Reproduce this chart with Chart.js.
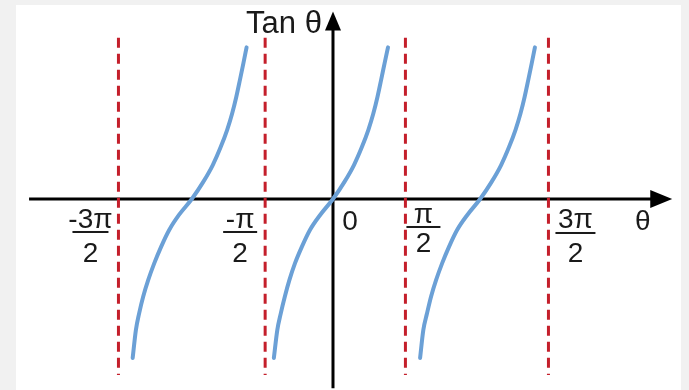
<!DOCTYPE html>
<html>
<head>
<meta charset="utf-8">
<script src="https://cdn.jsdelivr.net/npm/chart.js@4"></script>
<style>
  body { margin: 0; background: #f1f1f1; }
  #wrap { position: relative; width: 689px; height: 390px; }
  #panel { position: absolute; left: 16px; top: 5px; width: 665px; height: 385px; background: #fff; }
  canvas { position: absolute; left: 0; top: 0; }
</style>
</head>
<body>
<div id="wrap">
  <div id="panel"></div>
  <canvas id="tanChart" width="689" height="390"></canvas>
</div>
<script>
// ...... values (theta in radians, tan value) ......
const leftTheta = [-4.37, -4.30, -4.23, -4.14, -4.03, -3.90, -3.75, -3.57, -3.36, -3.08, -2.83, -2.62, -2.45, -2.31, -2.20, -2.11, -2.03, -1.955, -1.885];
const leftTan   = [-2.79, -2.30, -2.01, -1.71, -1.42, -1.13, -0.84, -0.54, -0.28, 0, 0.30, 0.60, 0.91, 1.21, 1.50, 1.79, 2.09, 2.38, 2.66];
const midTheta  = [-1.29, -1.215, -1.14, -1.05, -0.95, -0.83, -0.68, -0.50, -0.28, 0, 0.25, 0.46, 0.63, 0.77, 0.88, 0.97, 1.05, 1.125, 1.20];
const midTan    = [-2.79, -2.30, -2.01, -1.71, -1.42, -1.13, -0.84, -0.54, -0.28, 0, 0.30, 0.60, 0.91, 1.21, 1.50, 1.79, 2.09, 2.38, 2.66];
const rightTheta = [1.90, 1.97, 2.05, 2.14, 2.25, 2.38, 2.53, 2.71, 2.93, 3.21, 3.46, 3.67, 3.84, 3.98, 4.09, 4.18, 4.26, 4.335, 4.405];
const rightTan   = [-2.79, -2.30, -2.01, -1.71, -1.42, -1.13, -0.84, -0.54, -0.28, 0, 0.30, 0.60, 0.91, 1.21, 1.50, 1.79, 2.09, 2.38, 2.66];

// asymptotes and their tick labels
const asymptotes = [-4.68, -1.48, 1.58, 4.70];
const tickTops = ['-3\u03c0', '-\u03c0', '\u03c0', '3\u03c0'];
const tickBottoms = ['2', '2', '2', '2'];
const asymTop = 2.83;
const asymBottom = -3.09;

const blue = '#6ba0d6';
const red = '#c41f2b';
const font = '"Liberation Sans", Arial, sans-serif';

function toPoints(xs, ys) {
  return xs.map((v, i) => ({ x: v, y: ys[i] }));
}

const branch = (xs, ys) => ({
  data: toPoints(xs, ys),
  borderColor: blue,
  borderWidth: 4,
  pointRadius: 0,
  cubicInterpolationMode: 'monotone',
  borderCapStyle: 'round'
});

const asymLine = (a) => ({
  data: [{ x: a, y: asymTop }, { x: a, y: asymBottom }],
  borderColor: red,
  borderWidth: 3,
  borderDash: [10, 6],
  pointRadius: 0
});

// axes with arrow heads, and the labels
const tanAxes = {
  id: 'tanAxes',
  beforeDatasetsDraw(chart) {
    const { ctx, scales: { x, y } } = chart;
    const x0 = x.getPixelForValue(0);
    const y0 = y.getPixelForValue(0);
    const xa = x.getPixelForValue(-6.63);
    const xb = x.getPixelForValue(7.40);
    const yt = y.getPixelForValue(3.29);
    const yb = y.getPixelForValue(-3.32);
    ctx.save();
    ctx.strokeStyle = '#000';
    ctx.fillStyle = '#000';
    ctx.lineWidth = 3;
    ctx.beginPath();
    ctx.moveTo(xa, y0); ctx.lineTo(xb - 15, y0);
    ctx.moveTo(x0, yb); ctx.lineTo(x0, yt + 14);
    ctx.stroke();
    ctx.beginPath();
    ctx.moveTo(xb, y0); ctx.lineTo(xb - 22, y0 - 9); ctx.lineTo(xb - 22, y0 + 9);
    ctx.closePath(); ctx.fill();
    ctx.beginPath();
    ctx.moveTo(x0, yt); ctx.lineTo(x0 - 8, yt + 19); ctx.lineTo(x0 + 8, yt + 19);
    ctx.closePath(); ctx.fill();
    ctx.restore();
  },
  afterDatasetsDraw(chart) {
    const { ctx, scales: { x, y } } = chart;
    const x0 = x.getPixelForValue(0);
    const y0 = y.getPixelForValue(0);
    // label nudges: bar centre offset, numerator/bar/denominator offsets below axis, bar half width
    const nudge = [
      { dx: -28, num: 29, bar: 33, den: 63, half: 18 },
      { dx: -25, num: 29, bar: 33, den: 63, half: 17 },
      { dx: 18,  num: 24, bar: 28, den: 53, half: 17 },
      { dx: 27,  num: 29, bar: 34, den: 63, half: 20 }
    ];
    ctx.save();
    ctx.fillStyle = '#1a1a1a';
    ctx.font = '28px ' + font;
    ctx.textAlign = 'center';
    ctx.textBaseline = 'alphabetic';
    asymptotes.forEach((a, i) => {
      const n = nudge[i];
      const cx = x.getPixelForValue(a) + n.dx;
      ctx.fillText(tickTops[i], cx, y0 + n.num);
      ctx.fillRect(cx - n.half, y0 + n.bar - 1, n.half * 2, 2);
      ctx.fillText(tickBottoms[i], cx, y0 + n.den);
    });
    ctx.fillText('0', x0 + 17, y0 + 31);
    ctx.fillText('\u03b8', x.getPixelForValue(6.76), y0 + 31);
    ctx.font = '31px ' + font;
    ctx.fillText('Tan \u03b8', x0 - 49, y.getPixelForValue(2.91));
    ctx.restore();
  }
};

const chart = new Chart(document.getElementById('tanChart'), {
  type: 'line',
  data: {
    datasets: [
      ...asymptotes.map(asymLine),
      branch(leftTheta, leftTan),
      branch(midTheta, midTan),
      branch(rightTheta, rightTan)
    ]
  },
  options: {
    responsive: false,
    animation: false,
    layout: { padding: 0 },
    plugins: { legend: { display: false }, tooltip: { enabled: false } },
    scales: {
      x: { type: 'linear', min: -7.264, max: 7.766, display: false },
      y: { type: 'linear', min: -3.351, max: 3.491, display: false }
    },
    elements: { line: { clip: false } }
  },
  plugins: [tanAxes]
});
</script>
</body>
</html>
